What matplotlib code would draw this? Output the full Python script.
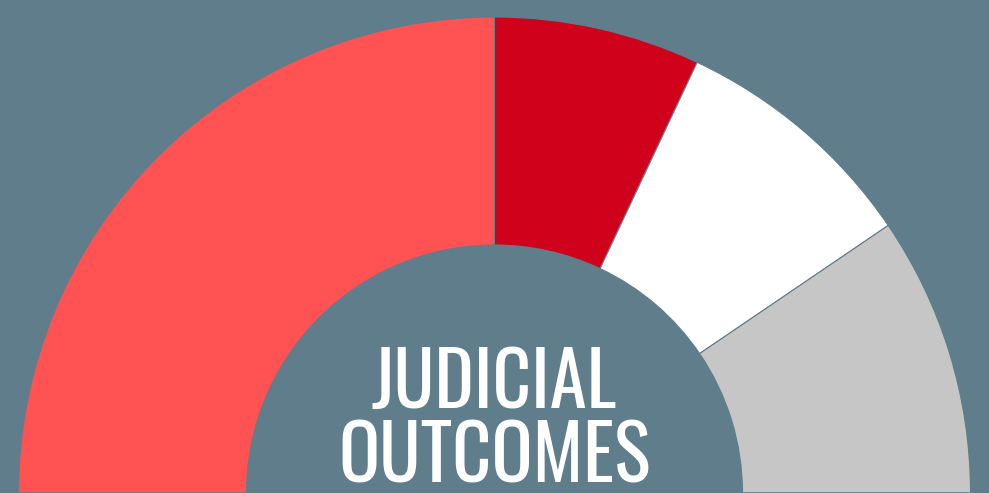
import matplotlib
matplotlib.use("Agg")
import matplotlib.pyplot as plt
from matplotlib import font_manager as fm

# Data (half-donut shares, %)
categories = ["Outcome A", "Outcome B", "Outcome C", "Outcome D"]
values = [50, 14, 17, 19]
colors = ["#FF5252", "#D0021B", "#FFFFFF", "#C6C6C6"]
title_lines = ["JUDICIAL", "OUTCOMES"]

bg = "#607D8B"

fig = plt.figure(figsize=(9.89, 4.93), dpi=100, facecolor=bg)
ax = fig.add_axes([0, 0, 1, 1])
ax.set_facecolor(bg)

R = 476
W = 228
ax.pie(values + [sum(values)], colors=colors + ["none"],
       startangle=180, counterclock=False, radius=R, center=(0, 0),
       wedgeprops=dict(width=W, edgecolor=bg, linewidth=0.8))
ax.set_xlim(-494.5, 494.5)
ax.set_ylim(0, 493)
ax.set_aspect("equal")
ax.axis("off")

names = {f.name for f in fm.fontManager.ttflist}
chosen = "Oswald" if "Oswald" in names else "DejaVu Sans"
fam = [chosen, "DejaVu Sans"]
ax.text(0, 108, title_lines[0], ha="center", va="center", color="white",
        fontsize=54, family=fam, fontweight=300)
ax.text(0, 34, title_lines[1], ha="center", va="center", color="white",
        fontsize=55, family=fam, fontweight=300)

fig.savefig("out.png", dpi=100, facecolor=bg)
